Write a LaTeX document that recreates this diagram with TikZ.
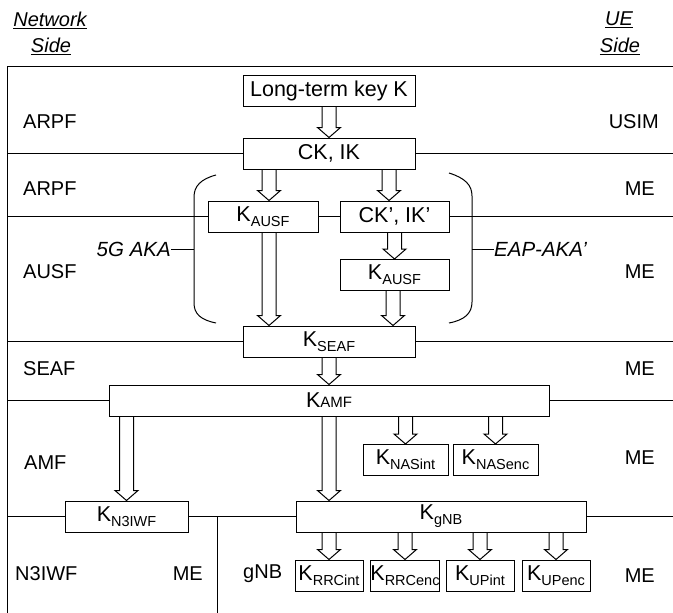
\documentclass[tikz,border=0pt]{standalone}
\usepackage{fontspec}
\setmainfont{Liberation Sans}
\usetikzlibrary{calc}
% key name with a lowered index, e.g. K_AUSF
\newcommand\keysub[1]{K\raisebox{-4.8pt}{\fontsize{14.5}{15}\selectfont #1}}
\begin{document}
\begin{tikzpicture}[x=1pt,y=-1pt,
  every node/.style={font=\fontsize{20}{24}\selectfont, inner sep=0pt},
  key/.style={draw, line width=1pt, minimum height=31pt, anchor=center,
    font=\fontsize{21.5}{24}\selectfont},
  rule/.style={line width=1pt},
  hdr/.style={font=\itshape\fontsize{20}{24}\selectfont},
  tag/.style={font=\itshape\fontsize{20.5}{24}\selectfont},
  % hollow block arrow from the bottom of one box to the top of another
  fat/.style={line width=1pt, line join=miter, to path={
    let \p1=(\tikztostart.south), \p2=(\tikztotarget.north) in
    ({\x2+#1-7pt},\y1) -- ({\x2+#1-7pt},{\y2+10pt}) -- ({\x2+#1-11.5pt},{\y2+10pt})
    -- ({\x2+#1},\y2) -- ({\x2+#1+11.5pt},{\y2+10pt}) -- ({\x2+#1+7pt},{\y2+10pt})
    -- ({\x2+#1+7pt},\y1)}},
  fat/.default=0pt
]
\useasboundingbox (0,0) rectangle (673,613);

% outer frame
\coordinate (tl) at (7,66);
\coordinate (tr) at (673,66);
\coordinate (bl) at (7,613);
\draw[rule] (tr) -- (tl) -- (bl);

% side headings
\node[hdr] (nethd) at (50,20) {\underline{Network}};
\node[hdr] (netside) at (51,46) {\underline{Side}};
\node[hdr] (uehd) at (619,20) {\underline{UE}};
\node[hdr] (ueside) at (620,46) {\underline{Side}};

% key boxes
\node[key, minimum width=172pt] (longk) at (329,91) {Long-term key K};
\node[key, minimum width=172pt] (ckik) at (329,153.5) {CK, IK};
\node[key, minimum width=110pt] (kausfa) at (263,216.5) {\keysub{AUSF}};
\node[key, minimum width=109pt] (ckp) at (394.5,216.5) {CK’, IK’};
\node[key, minimum width=109pt] (kausfb) at (394.5,275) {\keysub{AUSF}};
\node[key, minimum width=172pt] (kseaf) at (329,341.5) {\keysub{SEAF}};
\node[key, minimum width=440pt] (kamf) at (329,400.5) {K{\fontsize{15}{15}\selectfont AMF}};
\node[key, minimum width=85pt] (knasint) at (405.5,460) {\keysub{NASint}};
\node[key, minimum width=85pt] (knasenc) at (495.5,460) {\keysub{NASenc}};
\node[key, minimum width=123pt] (kniwf) at (126.5,516.5) {\keysub{N3IWF}};
\node[key, minimum width=290pt] (kgnb) at (441,516.5) {\keysub{gNB}};
\node[key, minimum width=68pt] (krrcint) at (329,575.5) {\keysub{RRCint}};
\node[key, minimum width=68pt] (krrcenc) at (405,575.5) {\keysub{RRCenc}};
\node[key, minimum width=68pt] (kupint) at (480,575.5) {\keysub{UPint}};
\node[key, minimum width=68pt] (kupenc) at (556,575.5) {\keysub{UPenc}};

% layer boundaries
\draw[rule] (ckik.west -| tl) -- (ckik.west);
\draw[rule] (ckik.east) -- (ckik.east -| tr);
\draw[rule] (kausfa.west -| tl) -- (kausfa.west);
\draw[rule] (kausfa.east) -- (ckp.west);
\draw[rule] (ckp.east) -- (ckp.east -| tr);
\draw[rule] (kseaf.west -| tl) -- (kseaf.west);
\draw[rule] (kseaf.east) -- (kseaf.east -| tr);
\draw[rule] (kamf.west -| tl) -- (kamf.west);
\draw[rule] (kamf.east) -- (kamf.east -| tr);
\draw[rule] (kniwf.west -| tl) -- (kniwf.west);
\draw[rule] (kniwf.east) -- (kgnb.west);
\draw[rule] (kgnb.east) -- (kgnb.east -| tr);
\coordinate (split) at (217,516.5);
\draw[rule] (split) -- (split |- bl);

% derivation arrows
\draw[fat] (longk) to (ckik);
\draw[fat=6pt] (ckik) to (kausfa);
\draw[fat=-5.5pt] (ckik) to (ckp);
\draw[fat] (ckp) to (kausfb);
\draw[fat=-60pt] (kausfa) to (kseaf);
\draw[fat=64pt] (kausfb) to (kseaf);
\draw[fat] (kseaf) to (kamf);
\draw[fat] (kamf) to (kniwf);
\draw[fat=-112pt] (kamf) to (kgnb);
\draw[fat] (kamf) to (knasint);
\draw[fat] (kamf) to (knasenc);
\draw[fat] (kgnb) to (krrcint);
\draw[fat] (kgnb) to (krrcenc);
\draw[fat] (kgnb) to (kupint);
\draw[fat] (kgnb) to (kupenc);

% brackets grouping the two authentication methods
\draw[rule] (216,175) .. controls (201,179) and (194,186) .. (194,197)
  -- (194,303) .. controls (194,314) and (201,320) .. (216,323);
\draw[rule] (449,173) .. controls (465,178) and (472,185) .. (472,196)
  -- (472,302) .. controls (472,313) and (465,320) .. (449,323);
\coordinate (lbr) at (194,249);
\coordinate (rbr) at (472,249);
\node[tag, anchor=east] (fiveg) at (171,249) {5G AKA};
\node[tag, anchor=west] (eap) at (494,249) {EAP-AKA’};
\draw[rule] (fiveg.east) -- (lbr);
\draw[rule] (rbr) -- (eap.west);

% network-side functions
\node[anchor=west] (arpfa) at (23,122) {ARPF};
\node[anchor=west] (arpfb) at (23,189) {ARPF};
\node[anchor=west] (ausf) at (23,272) {AUSF};
\node[anchor=west] (seaf) at (23,369) {SEAF};
\node[anchor=west] (amf) at (24,463) {AMF};
\node[anchor=west] (n3iwf) at (15,574) {N3IWF};
\node[anchor=west] (gnb) at (243,574) {gNB};

% UE-side functions
\node[anchor=east] (usim) at (659,122) {USIM};
\node[anchor=east] (mea) at (655,189) {ME};
\node[anchor=east] (meb) at (655,272) {ME};
\node[anchor=east] (mec) at (655,369) {ME};
\node[anchor=east] (med) at (655,458) {ME};
\node[anchor=east] (mee) at (203,574) {ME};
\node[anchor=east] (mef) at (655,576) {ME};
\end{tikzpicture}
\end{document}
